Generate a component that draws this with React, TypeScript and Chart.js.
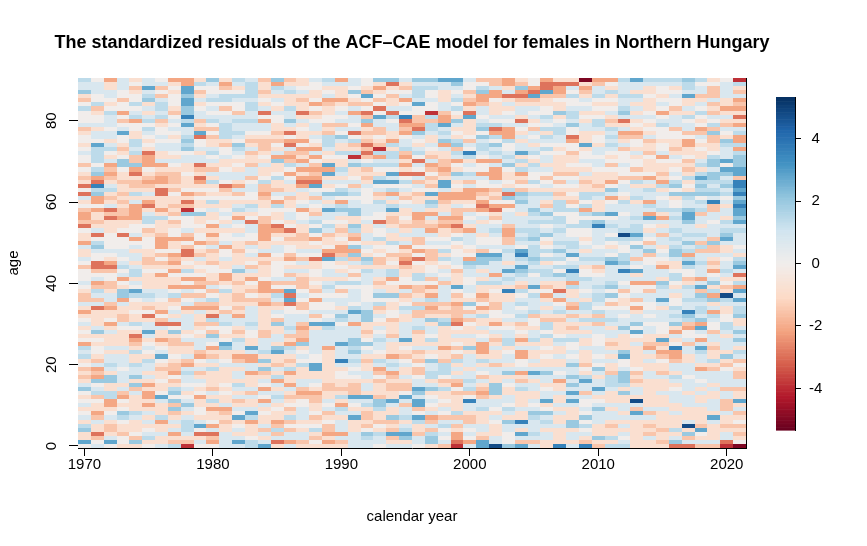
import { useEffect, useRef } from "react"
import { Chart, registerables } from "chart.js"

Chart.register(...registerables)

const FONT = "'Liberation Sans', Arial, sans-serif"

const title = "The standardized residuals of the ACF–CAE model for females in Northern Hungary"
const xTitle = "calendar year"
const yTitle = "age"

const firstYear = 1970
const lastYear = 2021
const maxAge = 90
const yearTicks = [1970, 1980, 1990, 2000, 2010, 2020]
const ageTicks = [0, 20, 40, 60, 80]
const legendTicks = [-4, -2, 0, 2, 4]
const zLimit = 5.33

// colour classes -> approximate standardized residual
const levels: Record<string, number> = {
  a: -5.0, b: -3.9, c: -2.9, d: -2.1, e: -1.5, f: -0.8, g: 0,
  h: 0.8, i: 1.4, j: 2.0, k: 2.8, l: 3.6, m: 4.8,
}

// one string per calendar year 1970..2021, one letter per age from 90 (top) down to 0
const residualColumns = [
  "ihhjfegigg ghefggfghg gegfefcgch fgeddecgff dhffhgeggg hgfeehfdfg hfgfgdihif gefefhjgfg hfghfijffk g",
  "ghhhggiefg ghfhhgkiii igijdclijd dgdffefhcg ijhggccegh deihehcfff fhjfgfggfe hdedjghieg ffdehffceg h",
  "dffhhgfgih hhghhfhigf hdedefhife fhcecfffgg gghgfdcegg eefhhedffg dfhfffhfhh ihfjjffiid dfghfeefhk g",
  "hhhggeggdg eghkggfefg jjgffeffef efeedffgcg gghhghighd gfjjdhffee hgffffhfhh hghhhfhedg fgjigffegg f",
  "fgefggighi dggffiihie ejdcfeefif hddddfgghd ghfhhfhiif hgkigffgff igfcdefiff ihhjfjehff ffihfffgej f",
  "hhkhijfhfh igihgfgfcd ddgfedefhf dcfhiigefg ggffeefgff ffhihfegcf hhkhfghgfi hhfhfdfddf dfhfhfghif g",
  "ghegehiihi efgghghhff hdfeddfccf ffdfifffed ddgegefgdf ffhhgffdge chffdfghkg feffgffgkh fffidffhff h",
  "dfgfgggfeg hghgfghhgf hgfeeefegf fefegefggd ffgdedfdgf fdgiefghfh cgjfeeffgf eedgefijgj ejefhfhdfe i",
  "ddkkjkkjjl ikhhijijgh hffgfffgdf cebjggghed geccfgfigd gdheghdfhh hhfgheffhe dhihhghfgh jhfhiiihfe b",
  "figefhfghh efekcgghfh hcefcdfgeg ffgjffgfgg dgfehfgfgd edgehedhff efgfhhhedg fhefhgfgdf fggfhkgcfh g",
  "jhgghighgh igegeffhig hfehfifgfg ifhffgdfdf eheffeggff ehegiedfci egejhgdfeh fiffffehfi fdffgdhced g",
  "fdegiigegh hiiiifeggh ffghhgcefg ffghgfhfgg hdgghffgdd fgifffgehh iggfgkjffg hffffgfgff hdefeffhhh h",
  "ihfgihggeh ihhihgjihg fgfhhfdheg fhifdhgfhg ffefffhjff effeefefdh hfefihhfde hfhhfihfhe fhgkfghfhk h",
  "hiiiihiihh ihhgfefhef fehheghhgg fihfgchhgg ehghfgehfd gfegefhhhh ihggffkhdd hhdfffhehf fhkidfffgi i",
  "effefgfhcg dhhgfeeefg fhffgieede ffggeedddd ffhdfefffg dddfedffff ffeehhhifj fjefhgdhgd hfgffhehfh k",
  "jdihfhgfhg gffefegfhd jffgiffehg digffgcdfg fhhgfggggh egdihefhge jffhhfjkff ehfidhfhih fgffdeiehc f",
  "efhifffihh jhfcgdched eigdghffhe ffghhfgcfe fggedgfheh egkckcgghh hihefdihfe fidffdhfef gefiegehhd h",
  "ffghfeffcf hfgffdgdef dhdfdcdhff ghdgghffee ffhgehfhfe eeghgeeghh edeedjfghg ifffhhedeg ghhhfgfhhe f",
  "hggffgdgef ghhfhgfdhd gededckghe hgfehigjgd gfhgcffggf gfegdggheg kfhhhhhhgg kkffhgfdee ffgefgifeg f",
  "ihfghdeffg gefeiiihfg fkdkfhfgjh fhkhhgihef fgdckgghhf hihghgghgh kihhhhdfff fffffeeffh ghefgeedfd f",
  "dhfffdfghg hehgjhffig ffihfhgijg dijhfgfefg fddeifgfhf igeghhfhji ghhhhkhhhl hfggffefif dihfhhhdhe f",
  "hhgjgfehdh hghcgiefib hjffghehig hhjjffjied gjdjehfgeg ighhhgikhh dhhhjjijhi hghgfeeekh gfhkfffhhh h",
  "ggfekgegce jdfefecece giefefhggg ghhhghffhh fhgfjifihh hgggghhjjj ffefgjghfe ffhhfhhfkh ifeefegjih h",
  "jfdfgegcgk hheegfebid higfikghef ihhggchggi fgfgeefhhf efhjgiefhg fhghihhgfi hdegefffej jiffegfihh g",
  "jcfgeffhci ghhffdifii higkhkgidh fikfeefhff iggefgfiid gffjgffgge fffehfffdh ihdefeeffk hffjefekef h",
  "hfeghdghgl cdedghhied fdfcgighfe ghffgfefhf hdfedceffg gdhefgihff hhhhkfgfeg hffhfeegkh ehhifhikjf h",
  "jhiiihkgge edcjhgfhig chgchehgef fhhddeehhe egdgcgffii geefheieeh hiefffhefe geeghhkjhk kegkiffehh g",
  "jhigghggbi eiihffhgfe hdegefegkf jifdhfedhg hgeeefgghe gdfdiedefj fhhgifhfgj hhiifhjfgh gfhdeheijj f",
  "khhfffhhed dkhihjdhff eedefkkhdd effhdedffg hgifigfhgh ehhhhefefi jfffffdffe iiigefiffg fhgehighgh e",
  "kjhghigigf jhfgfijeih dgfjhfgfdd fheedecegi gfgghhgeff fkgefdeeed cgfhfgegei fhfhedgeff ffiehefddc b",
  "hggefedfck ffffgehgli fhgihehddd fgehghfdhh hgfgdjihhg ghhgfjgehe gffhffjfhh hfhhihiegl hhfeehghgd h",
  "egijddehhg hijgjhiihg dggdhggdef dcdghfhhfg ghekjjhfhf iffdegdfif fhfghdddfi fhgehfedeh hifffhhfek k",
  "eehddgfffh gicdigjhih dhdddhgefe gdcfeghihg ghgkjhhhdh ifgffeeggf dghfefhffh ehhffjjjfh hgfhgfffhh m",
  "ddfhcfhfgh ghdddigghi hjgffgficj gdghhhedde ehihhfhkhi hflffhhhgh fghhiifghh fhjfhgffhh gihfjhhggg j",
  "fejdcefhhf chgfhfhhkf ifidfegeji jhhfhhhihi hgklihkjih feighighih efgfdfhddg ghdfehifff fhfflhfkhe k",
  "ggdckefhgh fgehghfhig fihggigfih hhjihihiij hiiijihigh hkgihhhieg gfhhifhffh fhkhfhhffh ghjihhhihe h",
  "dcckeffggi hgifihgigh hfhgeghfih fehjhighjg fgigifhiih fegdfhfhfe iigiffgfgf fhjhhfghhk fgjhihfhhf f",
  "fcddegffjf ghiihhgfgf fffegegfef iiigiihihh ihjhigigjh ffchdghife fffgihffhf fhghdffhff hfhffhffff l",
  "fchgigghii hjggcdggef fgfeghgfgf egigggiggh iihkghilii diffhedheh fefhigghgh jhhjhjhkhk hfffjjfhhf h",
  "afdefhghfg fhhfffkfgg hgfhfeffii gidigiiggf ghfhihfggi hhghfiihfi fhfhffhfff egfikhhehg ghgjgighfe l",
  "dehhigfgfg iihfggfhhg hhgfffefih fffjgjlhhh hghhihefgh hihiihgiei ehhggghhgh gjhfhhkhfg hjhhhfffjf e",
  "dgfifgfghf efihihihgf gegffdgjhd ghhkghihgi gfhgjkhhhh ijgjgeghhi hfhhfefhfh ffeiiihfff hfhhfeffif i",
  "ihhhihhijh cfhdefhegg ghggeghhgf ihhghhhimi hggiijhlhh ghegffghgh hjhffffjkg ghjjjifjff hhfhfhfhgh i",
  "khhfihfhfh fgfdeggfhf ggegeifhhi fhhhihiiki gjhhehgkfh dgghegdfhh jgkgfhffff fgefefhhfm hekhffffff f",
  "ihffgfffgh gfgfheffeg fffgdhfihh dihdkhgfhg ehjegghhhh dgehhgghgh ghhffedhfh ffhhffffff fhehfefehf f",
  "ihggfghgdg higggfgghd gffefdifhg hhifdhfheh hfghgfdhhf jihhkhfhhh gggfkefdeg ffehfffhff fhffffeffe f",
  "ihfghggefh hheggffefh gfghgijgjf ggihihhihi hijjhffgii gfhfggihih jfdhfgldde hhfihfghhh ffhfffifhj c",
  "jiihkffhfi ghhegddffg efefifgfji hhjkkjhhih jhidikigge fihhihhlji edgghehhff hhhghhhfhh hfffhmfjeh c",
  "ighhefhgig fgdehgfgff hifikijijg ihiehhfhih eiehhihhhd hkejihiihj dkhgdhkihh fdhhghfhff hffffekgfh e",
  "fgeeehefeh giejeeffgi jjhjjihijh leehhghhhe jeehfefdgh jfidjfhdih ggehhfeffi fehhhfhffh hhfkhffffh e",
  "ghhhhffdfh fehgfjihhh kgkjhijhig hfhhfihijk hffhghhihf gefmihffgg iihfhhhfjf eghhhhehhe eehffefhhc b",
  "bifehdedfc fdhiddidij jjkkellklj klkkjkhihh hghfijkhcf idkhkhiijf fhjhjhfihe gfeehheffk fhefgefefg a",
]

// RdBu, low (red) to high (blue)
const palette = [
  "#67001F", "#B2182B", "#D6604D", "#F4A582", "#FDDBC7", "#F1EDEB",
  "#D1E5F0", "#92C5DE", "#4393C3", "#2166AC", "#053061",
]

type Cell = { x: number; y: number; v: number }

function hexToRgb(h: string) {
  const n = parseInt(h.slice(1), 16)
  return [(n >> 16) & 255, (n >> 8) & 255, n & 255]
}
const paletteRgb = palette.map(hexToRgb)

function colorFor(v: number) {
  const t = Math.min(1, Math.max(0, (v + zLimit) / (2 * zLimit))) * (palette.length - 1)
  const i = Math.min(palette.length - 2, Math.floor(t))
  const f = t - i
  const a = paletteRgb[i]
  const b = paletteRgb[i + 1]
  const c = a.map((q, k) => Math.round(q + (b[k] - q) * f))
  return `rgb(${c[0]},${c[1]},${c[2]})`
}

function buildCells(): Cell[] {
  const cells: Cell[] = []
  residualColumns.forEach((col, ci) => {
    const s = col.replace(/\s+/g, "")
    for (let k = 0; k <= maxAge; k++) {
      cells.push({ x: firstYear + ci, y: maxAge - k, v: levels[s[k]] ?? 0 })
    }
  })
  return cells
}

const heatmapPlugin = {
  id: "heatmap",
  beforeDatasetsDraw(chart: any) {
    const { ctx, chartArea } = chart
    const xs = chart.scales.x
    const ys = chart.scales.y
    const cells = chart.data.datasets[0].data as Cell[]
    ctx.save()
    for (const c of cells) {
      const x0 = Math.round(xs.getPixelForValue(c.x - 0.5))
      const x1 = Math.round(xs.getPixelForValue(c.x + 0.5))
      const y0 = Math.round(ys.getPixelForValue(c.y + 0.5))
      const y1 = Math.round(ys.getPixelForValue(c.y - 0.5))
      ctx.fillStyle = colorFor(c.v)
      ctx.fillRect(x0, y0, x1 - x0, y1 - y0)
    }
    // thin frame line on the right edge of the image
    ctx.strokeStyle = "#000"
    ctx.lineWidth = 1
    ctx.beginPath()
    ctx.moveTo(Math.round(chartArea.right) + 0.5, chartArea.top)
    ctx.lineTo(Math.round(chartArea.right) + 0.5, chartArea.bottom)
    ctx.stroke()
    ctx.restore()
  },
  afterDraw(chart: any) {
    const { ctx, chartArea } = chart
    const ys = chart.scales.y
    const cx = (chartArea.left + chartArea.right) / 2
    ctx.save()
    ctx.fillStyle = "#000"
    ctx.textAlign = "center"
    ctx.textBaseline = "middle"

    ctx.font = `bold 18px ${FONT}`
    ctx.fillText(title, cx, 43)

    ctx.font = `15px ${FONT}`
    ctx.fillText(xTitle, cx, 517)

    ctx.save()
    ctx.translate(14, (chartArea.top + chartArea.bottom) / 2)
    ctx.rotate(-Math.PI / 2)
    ctx.fillText(yTitle, 0, 0)
    ctx.restore()

    // rotated age tick labels, placed through the y scale
    for (const a of ageTicks) {
      ctx.save()
      ctx.translate(52, ys.getPixelForValue(a))
      ctx.rotate(-Math.PI / 2)
      ctx.fillText(String(a), 0, 0)
      ctx.restore()
    }
    ctx.restore()
  },
}

const colorbarPlugin = {
  id: "colorbar",
  beforeDatasetsDraw(chart: any) {
    const { ctx, chartArea } = chart
    const ys = chart.scales.y
    const steps = 240
    ctx.save()
    for (let k = 0; k < steps; k++) {
      const v0 = -zLimit + (2 * zLimit * k) / steps
      const v1 = -zLimit + (2 * zLimit * (k + 1)) / steps
      const yTop = ys.getPixelForValue(v1)
      const yBot = ys.getPixelForValue(v0)
      ctx.fillStyle = colorFor((v0 + v1) / 2)
      ctx.fillRect(chartArea.left, yTop, chartArea.right - chartArea.left, yBot - yTop + 0.6)
    }
    ctx.restore()
  },
}

export default function App() {
  const mainRef = useRef<HTMLCanvasElement>(null)
  const barRef = useRef<HTMLCanvasElement>(null)

  useEffect(() => {
    if (!mainRef.current || !barRef.current) return

    const main = new Chart(mainRef.current, {
      type: "scatter",
      data: {
        datasets: [{ data: buildCells(), pointRadius: 0, showLine: false }],
      },
      options: {
        animation: false,
        responsive: false,
        events: [],
        layout: { padding: { left: 0, right: 121, top: 78, bottom: 0 } },
        plugins: { legend: { display: false }, tooltip: { enabled: false } },
        scales: {
          x: {
            type: "linear",
            min: firstYear - 0.5,
            max: lastYear + 0.5,
            z: 1,
            afterBuildTicks: (s: any) => {
              s.ticks = yearTicks.map((v) => ({ value: v }))
            },
            afterFit: (s: any) => {
              s.height = 98
            },
            grid: { drawOnChartArea: false, drawTicks: true, tickLength: 8, color: "#000" },
            border: { display: true, color: "#000" },
            ticks: {
              color: "#000",
              font: { family: FONT, size: 15 },
              padding: 0,
              maxRotation: 0,
              autoSkip: false,
              callback: (v: any) => String(v),
            },
          },
          y: {
            type: "linear",
            min: -0.5,
            max: maxAge + 0.5,
            z: 1,
            afterBuildTicks: (s: any) => {
              s.ticks = ageTicks.map((v) => ({ value: v }))
            },
            afterFit: (s: any) => {
              s.width = 78
            },
            grid: { drawOnChartArea: false, drawTicks: true, tickLength: 9, color: "#000" },
            border: { display: false },
            ticks: { display: false },
          },
        },
      },
      plugins: [heatmapPlugin],
    })

    const bar = new Chart(barRef.current, {
      type: "scatter",
      data: { datasets: [{ data: [], pointRadius: 0 }] },
      options: {
        animation: false,
        responsive: false,
        events: [],
        layout: { padding: { left: 16, right: 0, top: 97, bottom: 116 } },
        plugins: { legend: { display: false }, tooltip: { enabled: false } },
        scales: {
          x: { display: false, min: 0, max: 1 },
          y: {
            type: "linear",
            position: "right",
            min: -zLimit,
            max: zLimit,
            z: 1,
            afterBuildTicks: (s: any) => {
              s.ticks = legendTicks.map((v) => ({ value: v }))
            },
            afterFit: (s: any) => {
              s.width = 72
            },
            grid: { drawOnChartArea: false, drawTicks: true, tickLength: 6, color: "#000" },
            border: { display: true, color: "#000" },
            ticks: {
              color: "#000",
              font: { family: FONT, size: 15 },
              padding: 8,
              crossAlign: "center",
              callback: (v: any) => String(v),
            },
          },
        },
      },
      plugins: [colorbarPlugin],
    })

    return () => {
      main.destroy()
      bar.destroy()
    }
  }, [])

  return (
    <div style={{ position: "absolute", left: 0, top: 0, width: 867, height: 546, background: "#fff" }}>
      <canvas ref={mainRef} width={867} height={546} style={{ position: "absolute", left: 0, top: 0 }} />
      <canvas ref={barRef} width={107} height={546} style={{ position: "absolute", left: 760, top: 0 }} />
    </div>
  )
}
